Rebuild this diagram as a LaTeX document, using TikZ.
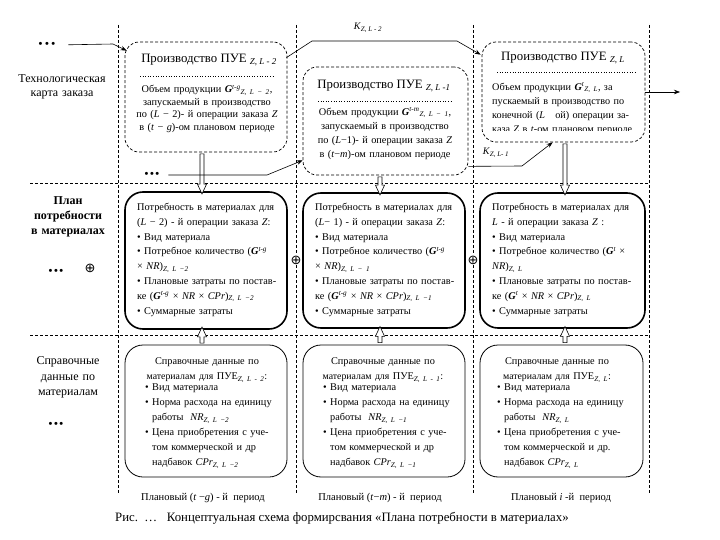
\documentclass[tikz,border=0pt]{standalone}
\usepackage{fontspec}
\setmainfont{Liberation Serif}
\newfontfamily\dejavu{DejaVu Sans}
\usetikzlibrary{shapes.arrows,arrows.meta,calc}
\newcommand{\fsz}[2]{\fontsize{#1}{#2}\selectfont}
\newcommand{\sbi}[1]{\textsubscript{\itshape #1}}
\newcommand{\spi}[1]{\textsuperscript{\itshape #1}}
\newcommand{\GG}{\textbf{\textit{G}}}
\newcommand{\mi}[1]{\textit{#1}}
\newcommand{\bulx}{\makebox[7pt][l]{•}}
\newcommand{\hindx}{\hspace*{7pt}}
\begin{document}
\begin{tikzpicture}[x=1pt,y=-1pt,
  guide/.style={dash pattern=on 3pt off 2pt, line width=0.6pt},
  prodbox/.style={draw, dash pattern=on 3pt off 2pt, line width=0.7pt, rounded corners=14pt, inner sep=0pt},
  needbox/.style={draw, line width=1.6pt, rounded corners=18pt, inner sep=0pt},
  refbox/.style={draw, line width=0.8pt, rounded corners=18pt, inner sep=0pt},
  harrow/.style={draw, fill=white, single arrow, single arrow head extend=2.6pt, single arrow tip angle=50, inner sep=1.7pt, minimum width=0pt, line width=0.6pt},
  arr/.style={-{Stealth[length=6pt,width=4.5pt]}, line width=0.6pt},
  ttl/.style={font=\fsz{12.8}{14}, inner sep=0pt, anchor=base},
  txt/.style={font=\fsz{10.3}{14}, inner sep=0pt, anchor=base, text width=175pt},
  lab/.style={font=\fsz{12}{14}, inner sep=0pt, anchor=base, text width=110pt, align=center},
  dots/.style={font=\bfseries\fsz{11}{11}, inner sep=1pt},
  oplus/.style={font=\dejavu\fsz{13}{13}, inner sep=0.3pt, fill=white},
  sep/.style={dotted, line width=0.6pt},
  plain/.style={inner sep=0pt, anchor=base}
]
\useasboundingbox (0,0) rectangle (720,540);

% column and row guides
\foreach \x in {118,296,473,649} \draw[guide] (\x,25) -- (\x,493);
\draw[guide] (30,183) -- (649,183);
\draw[guide] (30,335) -- (649,335);

% boxes
\node[prodbox, minimum width=162pt, minimum height=110pt] (a1) at (206,97) {};
\node[prodbox, minimum width=165pt, minimum height=108pt] (b1) at (385.5,121) {};
\node[prodbox, minimum width=163pt, minimum height=100pt] (c1) at (563.5,92) {};
\node[needbox, minimum width=162pt, minimum height=137pt] (a2) at (206,260.5) {};
\node[needbox, minimum width=162pt, minimum height=135pt] (b2) at (384,260.5) {};
\node[needbox, minimum width=165pt, minimum height=135pt] (c2) at (562.5,260.5) {};
\node[refbox, minimum width=162pt, minimum height=132pt] (a3) at (206,411) {};
\node[refbox, minimum width=162pt, minimum height=132pt] (b3) at (384,411) {};
\node[refbox, minimum width=163pt, minimum height=132pt] (c3) at (561.5,411) {};

% row 1 texts
\node[ttl] (a1h) at (209,62.5) {Производство ПУЕ \sbi{Z, L - 2}};
\node[ttl] (b1h) at (384,88.5) {Производство ПУЕ \sbi{Z, L -1}};
\node[ttl] (c1h) at (563,60.5) {Производство ПУЕ \sbi{Z, L}};
\draw[sep] (140,76) -- (275,76);
\draw[sep] (318,101) -- (452,101);
\draw[sep] (497,72) -- (636,72);
\node[txt, align=center, font=\fsz{10.3}{12.5}] (a1t) at (207,93) {Объем продукции \GG\spi{t-g}\sbi{Z, L − 2},\\ запускаемый в производство\\ по (\mi{L} − 2)- й операции заказа \mi{Z}\\ в (\mi{t} − \mi{g})-ом плановом периоде};
\node[txt, align=center] (b1t) at (385,115.5) {Объем продукции \GG\spi{t-m}\sbi{Z, L − 1},\\ запускаемый в производство\\ по (\mi{L}−1)- й операции заказа \mi{Z}\\ в (\mi{t}−\mi{m})-ом плановом периоде};
\begin{scope}
\clip (482,42) rectangle (645,131);
\node[txt, align=left, anchor=base west, font=\fsz{10.2}{14}] (c1t) at (492,90.5) {Объем продукции \GG\spi{t}\sbi{Z, L}, за\\ пускаемый в производство по\\ конечной (\mi{L}\quad ой) операции за-\\ каза \mi{Z} в \mi{t}-ом плановом периоде};
\end{scope}

% row 2 texts
\node[txt, align=left, anchor=base west, font=\fsz{10.3}{14.8}] (a2t) at (137,210.5) {Потребность в материалах для\\ (\mi{L} − 2) - й операции заказа \mi{Z}:\\ • Вид материала\\ • Потребное количество (\GG\spi{t-g}\\ × \mi{NR})\sbi{Z, L −2}\\ • Плановые затраты по постав-\\ ке (\GG\spi{t-g} × \mi{NR} × \mi{CPr})\sbi{Z, L −2}\\ • Суммарные затраты};
\node[txt, align=left, anchor=base west, font=\fsz{10.3}{14.8}] (b2t) at (315,210.5) {Потребность в материалах для\\ (\mi{L}− 1) - й операции заказа \mi{Z}:\\ • Вид материала\\ • Потребное количество (\GG\spi{t-g}\\ × \mi{NR})\sbi{Z, L − 1}\\ • Плановые затраты по постав-\\ ке (\GG\spi{t-g} × \mi{NR} × \mi{CPr})\sbi{Z, L −1}\\ • Суммарные затраты};
\node[txt, align=left, anchor=base west, font=\fsz{10.3}{14.8}] (c2t) at (492,210.5) {Потребность в материалах для\\ \mi{L} - й операции заказа \mi{Z} :\\ • Вид материала\\ • Потребное количество (\GG\spi{t} ×\\ \mi{NR})\sbi{Z, L}\\ • Плановые затраты по постав-\\ ке (\GG\spi{t} × \mi{NR} × \mi{CPr})\sbi{Z, L}\\ • Суммарные затраты};

% row 3 texts
\node[txt, align=center, font=\fsz{10.3}{15}] (a3h) at (207,364.5) {Справочные данные по\\ {\fsz{9.8}{15}материалам для} ПУЕ\sbi{Z, L - 2}:};
\node[txt, align=left, anchor=base west, font=\fsz{10.3}{15}] (a3b) at (145,390.5) {\bulx Вид материала\\ \bulx Норма расхода на единицу\\ \hindx работы \ \mi{NR}\sbi{Z, L −2}\\ \bulx Цена приобретения с уче-\\ \hindx том коммерческой и др\\ \hindx надбавок \mi{CPr}\sbi{Z, L −2}};
\node[txt, align=center, font=\fsz{10.3}{15}] (b3h) at (383,364.5) {Справочные данные по\\ {\fsz{9.8}{15}материалам для} ПУЕ\sbi{Z, L - 1}:};
\node[txt, align=left, anchor=base west, font=\fsz{10.3}{15}] (b3b) at (323,390.5) {\bulx Вид материала\\ \bulx Норма расхода на единицу\\ \hindx работы \ \mi{NR}\sbi{Z, L −1}\\ \bulx Цена приобретения с уче-\\ \hindx том коммерческой и др\\ \hindx надбавок \mi{CPr}\sbi{Z, L −1}};
\node[txt, align=center, font=\fsz{10.3}{15}] (c3h) at (557,364.5) {Справочные данные по\\ {\fsz{9.8}{15}материалам для} ПУЕ\sbi{Z, L}:};
\node[txt, align=left, anchor=base west, font=\fsz{10.3}{15}] (c3b) at (497,390.5) {\bulx Вид материала\\ \bulx Норма расхода на единицу\\ \hindx работы \ \mi{NR}\sbi{Z, L}\\ \bulx Цена приобретения с уче-\\ \hindx том коммерческой и др.\\ \hindx надбавок \mi{CPr}\sbi{Z, L}};

% hollow arrows between rows
\path ($(a1.south)+(-4,0)$) -- node[harrow, shape border rotate=270, minimum height=40pt] (h1) {} ($(a2.north)+(-4,0)$);
\path ($(b1.south)+(-5.5,0)$) -- node[harrow, shape border rotate=270, minimum height=18pt] (h2) {} ($(b2.north)+(-4,0)$);
\path ($(c1.south)+(1.5,0)$) -- node[harrow, shape border rotate=270, minimum height=51pt] (h3) {} ($(c2.north)+(2.5,0)$);
\path ($(a3.north)+(-4,0)$) -- node[harrow, shape border rotate=90, minimum height=16pt] (u1) {} ($(a2.south)+(-4,0)$);
\path ($(b3.north)+(-4,0)$) -- node[harrow, shape border rotate=90, minimum height=16pt] (u2) {} ($(b2.south)+(-4,0)$);
\path ($(c3.north)+(3.5,0)$) -- node[harrow, shape border rotate=90, minimum height=16pt] (u3) {} ($(c2.south)+(2.5,0)$);

% dots and connectors
\node[dots] (dA) at (47,45) {•\hspace{2.5pt}•\hspace{2.5pt}•};
\coordinate (dAb) at (113,44);
\draw[arr, shorten <=12pt] (dA.east) -- (dAb) -- ($(a1.north west)+(2,9)$);

\node[dots] (d1) at (152,175) {•\hspace{1.5pt}•\hspace{1.5pt}•};
\coordinate (d1b) at (267,175);
\draw[arr, shorten <=8pt] (d1.east) -- (d1b) -- ($(b1.south west)+(0,-15)$);

\coordinate (k1a) at (312,41);
\coordinate (k1b) at (457,41);
\draw[arr] ($(a1.north east)+(-1,16)$) -- (k1a) -- (k1b) -- ($(c1.north west)+(-1,13)$);
\node[plain, font=\fsz{10}{10}] (k1) at (368,30) {\mi{K}\sbi{Z, L - 2}};

\coordinate (k2a) at (522,166);
\draw[arr] ($(b1.south east)+(0,-9)$) -- (k2a) -- ($(c1.south west)+(71,0)$);
\node[plain, font=\fsz{10}{10}] (k2) at (496,155) {\mi{K}\sbi{Z, L- 1}};

\coordinate (outE) at (680,92);
\draw[arr] (c1.east) -- (outE);

\node[oplus] (p0) at (90,268) {⊕};
\node[oplus] (p1) at (296,260) {⊕};
\node[oplus] (p2) at (473,260) {⊕};
\node[dots] (d2) at (56,272) {•\hspace{1.5pt}•\hspace{1.5pt}•};
\node[dots] (d3) at (56,425) {•\hspace{1.5pt}•\hspace{1.5pt}•};

% side labels
\node[lab] (lt) at (62,82.6) {Технологическая\\карта заказа};
\node[lab, font=\bfseries\fsz{12}{15}] (lp) at (68,205) {План\\потребности\\в материалах};
\node[lab, font=\fsz{12}{15.5}] (ls) at (68,364.5) {Справочные\\данные по\\материалам};

% period labels and caption
\node[plain, font=\fsz{10.5}{10.5}] (pA) at (203,500.5) {Плановый (\mi{t} −\mi{g}) - й \ период};
\node[plain, font=\fsz{10.5}{10.5}] (pB) at (380,500.5) {Плановый (\mi{t}−\mi{m}) - й \ период};
\node[plain, font=\fsz{10.5}{10.5}] (pC) at (561,500.5) {Плановый \mi{i} -й \ период};
\node[plain, anchor=base west, font=\fsz{12.8}{12.8}] (cap) at (115,521) {Рис.\ \ …\ \ \ Концептуальная схема формирсвания «Плана потребности в материалах»};
\end{tikzpicture}
\end{document}
